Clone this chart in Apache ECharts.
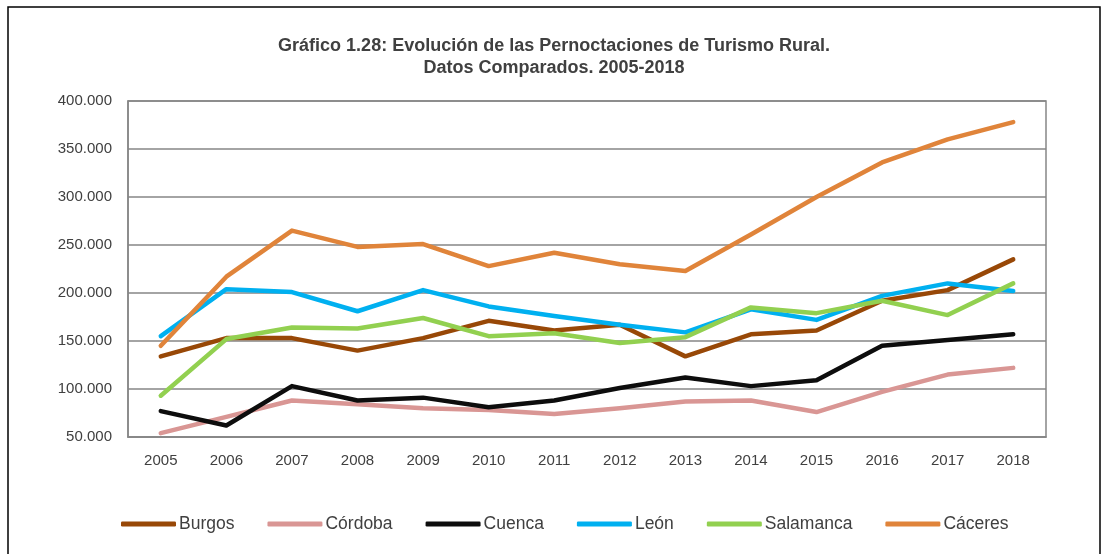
<!DOCTYPE html>
<html>
<head>
<meta charset="utf-8">
<script src="https://cdn.jsdelivr.net/npm/echarts@6/dist/echarts.min.js"></script>
<style>
  html, body { margin: 0; padding: 0; background: #fff; }
  #chart { width: 1108px; height: 554px; }
</style>
</head>
<body>
<div id="chart"></div>
<script>
// years on the category axis
const years = ['2005', '2006', '2007', '2008', '2009', '2010', '2011', '2012', '2013', '2014', '2015', '2016', '2017', '2018'];

// overnight stays per province
const burgos    = [134000, 153000, 153000, 140000, 153000, 171000, 161000, 167000, 134000, 157000, 161000, 192000, 203000, 235000];
const cordoba   = [54000, 71000, 88000, 84000, 80000, 78000, 74000, 80000, 87000, 88000, 76000, 97000, 115000, 122000];
const cuenca    = [77000, 62000, 103000, 88000, 91000, 81000, 88000, 101000, 112000, 103000, 109000, 145000, 151000, 157000];
const leon      = [155000, 204000, 201000, 181000, 203000, 186000, 176000, 167000, 159000, 183000, 172000, 197000, 210000, 202000];
const salamanca = [93000, 152000, 164000, 163000, 174000, 155000, 158000, 148000, 154000, 185000, 179000, 192000, 177000, 210000];
const caceres   = [145000, 217000, 265000, 248000, 251000, 228000, 242000, 230000, 223000, 261000, 300000, 336000, 360000, 378000];

const font = '"Liberation Sans", Arial, sans-serif';
const chart = echarts.init(document.getElementById('chart'), null, { renderer: 'canvas' });

// thousands separator with a dot, like the original
const fmt = v => String(v).replace(/\B(?=(\d{3})+(?!\d))/g, '.');

const mk = (name, data, color) => ({
  name: name,
  type: 'line',
  data: data,
  symbol: 'none',
  lineStyle: { color: color, width: 4.5, cap: 'round', join: 'round' },
  itemStyle: { color: color }
});

chart.setOption({
  animation: false,
  title: {
    text: 'Gráfico 1.28: Evolución de las Pernoctaciones de Turismo Rural.\nDatos Comparados. 2005-2018',
    left: 'center',
    top: 30,
    textStyle: { fontFamily: font, fontSize: 18, fontWeight: 'bold', color: '#404040', lineHeight: 22 }
  },
  graphic: [{
    type: 'rect',
    shape: { x: 8, y: 7, width: 1092, height: 560 },
    style: { fill: 'none', stroke: '#000', lineWidth: 1.5 },
    silent: true
  }],
  legend: {
    bottom: 16,
    left: 116,
    itemWidth: 55,
    itemHeight: 5,
    itemGap: 33,
    icon: 'roundRect',
    textStyle: { fontFamily: font, fontSize: 17.5, color: '#404040', padding: [0, 0, 0, -2] },
    data: ['Burgos', 'Córdoba', 'Cuenca', 'León', 'Salamanca', 'Cáceres']
  },
  grid: {
    left: 128, right: 62, top: 101, bottom: 117,
    show: true,
    borderColor: '#868686',
    borderWidth: 1.5
  },
  xAxis: {
    type: 'category',
    data: years,
    boundaryGap: true,
    axisLine: { lineStyle: { color: '#868686', width: 1.5 } },
    axisTick: { show: false },
    axisLabel: { fontFamily: font, fontSize: 15, color: '#404040', margin: 16 }
  },
  yAxis: {
    type: 'value',
    min: 50000,
    max: 400000,
    interval: 50000,
    axisLine: { show: true, lineStyle: { color: '#868686', width: 1.5 } },
    axisTick: { show: false },
    splitLine: { lineStyle: { color: '#868686', width: 1.5 } },
    axisLabel: { fontFamily: font, fontSize: 15, color: '#404040', margin: 16, formatter: fmt }
  },
  series: [
    mk('Burgos', burgos, '#984807'),
    mk('Córdoba', cordoba, '#d99694'),
    mk('Cuenca', cuenca, '#0d0d0d'),
    mk('León', leon, '#00b0f0'),
    mk('Salamanca', salamanca, '#92d050'),
    mk('Cáceres', caceres, '#e0843a')
  ]
});
</script>
</body>
</html>
